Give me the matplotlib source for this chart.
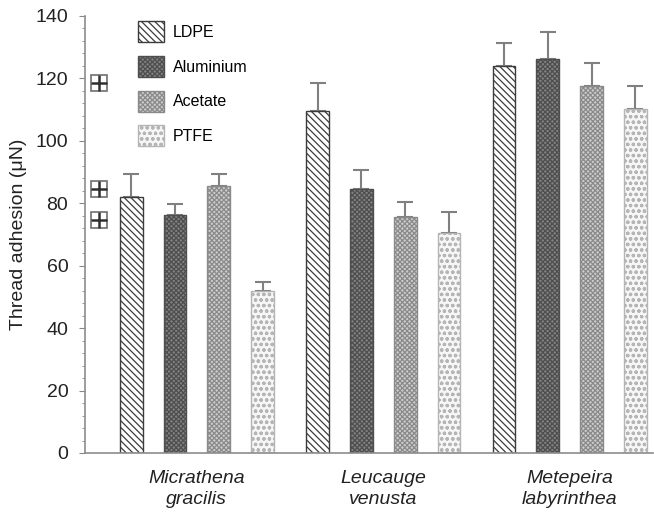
import matplotlib
matplotlib.use("Agg")
import matplotlib.pyplot as plt
import numpy as np
from matplotlib.ticker import MultipleLocator

plt.rcParams['font.family'] = ['Liberation Sans', 'DejaVu Sans']
plt.rcParams['hatch.linewidth'] = 0.9

species = ["Micrathena\ngracilis", "Leucauge\nvenusta", "Metepeira\nlabyrinthea"]
materials = ["LDPE", "Aluminium", "Acetate", "PTFE"]
means = {
    "LDPE":      [82.1, 109.6, 124.0],
    "Aluminium": [76.1, 84.6, 126.0],
    "Acetate":   [85.4, 75.7, 117.6],
    "PTFE":      [51.9, 70.6, 110.2],
}
errors = {
    "LDPE":      [7.2, 9.0, 7.3],
    "Aluminium": [3.6, 6.0, 8.9],
    "Acetate":   [4.0, 4.8, 7.2],
    "PTFE":      [3.0, 6.7, 7.4],
}
marker_levels = [118.6, 84.6, 74.7]

styles = {
    "LDPE":      dict(facecolor="white",   edgecolor="#3c3c3c", hatch="\\\\\\\\\\"),
    "Aluminium": dict(facecolor="#828282", edgecolor="#4e4e4e", hatch="xxxxxxx"),
    "Acetate":   dict(facecolor="#cdcdcd", edgecolor="#8a8a8a", hatch="xxxxxxx"),
    "PTFE":      dict(facecolor="#f6f6f6", edgecolor="#b5b5b5", hatch="ooo"),
}

fig = plt.figure(figsize=(6.54, 5.15), dpi=100)
ax = fig.add_axes([0.130, 0.1204, 0.868, 0.849])

x = np.arange(len(species))
step = 0.235
width = 0.123
for i, m in enumerate(materials):
    pos = x + (i - 1.5) * step
    ax.bar(pos, means[m], width=width, label=m, linewidth=1.0, **styles[m], zorder=2)
    ax.errorbar(pos, means[m], yerr=[np.zeros(3), errors[m]], fmt="none",
                ecolor="#808080", elinewidth=1.5, capsize=6, capthick=1.5, zorder=1)

# significance-style markers on the left
mx = -0.525
ax.plot([mx] * len(marker_levels), marker_levels, ls="none", marker="s", ms=12,
        mfc="white", mec="#707070", mew=1.2, clip_on=False, zorder=3)
ax.plot([mx] * len(marker_levels), marker_levels, ls="none", marker="+", ms=12,
        mec="#303030", mew=1.8, clip_on=False, zorder=4)

ax.set_xlim(-0.6, 2.445)
ax.set_ylim(0, 140)
ax.set_xticks(x)
ax.set_xticklabels(species, fontsize=14, style="italic", color="#222222", linespacing=1.3)
ax.tick_params(axis="x", length=0, pad=12)
ax.yaxis.set_major_locator(MultipleLocator(20))
ax.yaxis.set_minor_locator(MultipleLocator(4))
ax.tick_params(axis="y", which="major", length=4, color="#888888", labelsize=14, labelcolor="#222222", pad=8)
ax.tick_params(axis="y", which="minor", length=2.5, color="#888888")
ax.set_ylabel("Thread adhesion (μN)", fontsize=14, color="#222222", labelpad=6)

for s in ["top", "right"]:
    ax.spines[s].set_visible(False)
for s in ["left", "bottom"]:
    ax.spines[s].set_color("#8c8c8c")
    ax.spines[s].set_linewidth(1.2)

ax.legend(loc="upper left", bbox_to_anchor=(0.068, 1.02), frameon=False,
          fontsize=11.5, handlelength=1.6, handleheight=1.65, labelspacing=0.85,
          handletextpad=0.6)

fig.savefig("out.png", dpi=100)
